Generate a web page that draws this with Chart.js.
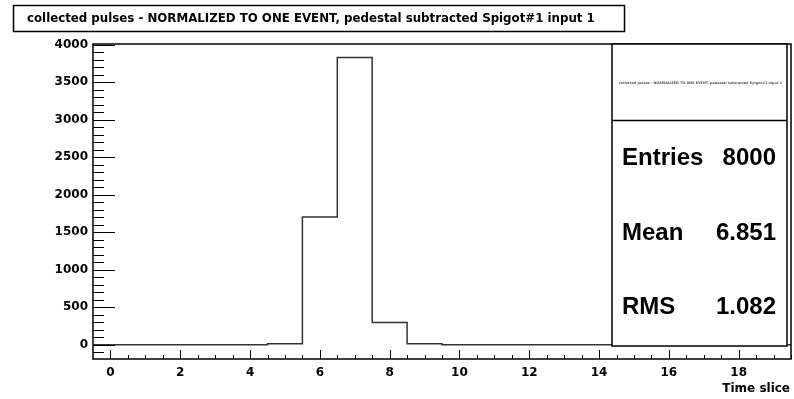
<!DOCTYPE html>
<html>
<head>
<meta charset="utf-8">
<script src="https://cdn.jsdelivr.net/npm/chart.js@4/dist/chart.umd.min.js"></script>
<style>
  html, body { margin: 0; padding: 0; background: #fff; }
  #wrap { width: 794px; height: 399px; position: relative; }
</style>
</head>
<body>
<div id="wrap"><canvas id="myChart"></canvas></div>
<script>

// DONNEES //

const histTitle = 'collected pulses - NORMALIZED TO ONE EVENT, pedestal subtracted Spigot#1 input 1';
const binCenters = [0, 1, 2, 3, 4, 5, 6, 7, 8, 9, 10, 11, 12, 13, 14, 15, 16, 17, 18, 19];
const binValues = [0, 0, 0, 0, 0, 15, 1705, 3830, 297, 12, 0, 0, 0, 0, 0, 0, 0, 0, 0, 0];
const xTickLabels = [0, 2, 4, 6, 8, 10, 12, 14, 16, 18];
const yTickLabels = [0, 500, 1000, 1500, 2000, 2500, 3000, 3500, 4000];
const statNames = ['Entries', 'Mean', 'RMS'];
const statValues = ['8000', '6.851', '1.082'];

const binWidth = 1;
const xMin = binCenters[0] - binWidth / 2;
const xMax = binCenters[binCenters.length - 1] + binWidth / 2;

// contour de l'histogramme : un point par bord de bin
const histPoints = binCenters.map((c, i) => ({ x: c - binWidth / 2, y: binValues[i] }));
histPoints.push({ x: xMax, y: binValues[binValues.length - 1] });

const FONT = '"DejaVu Sans", sans-serif';
const STATFONT = '"Liberation Sans", Arial, sans-serif';


// PLUGIN CADRE + TICKS + STATS style ROOT //

const rootStyle = {
  id: 'rootStyle',
  afterDatasetsDraw(chart) {
    const c = chart.ctx;
    const a = chart.chartArea;
    const xs = chart.scales.x;
    const ys = chart.scales.y;

    c.save();
    c.strokeStyle = '#000';
    c.lineWidth = 1;

    // ticks axe Y (vers l'interieur)
    for (let v = -100; v <= 4000; v += 100) {
      const y = Math.round(ys.getPixelForValue(v)) + 0.5;
      if (y < a.top || y > a.bottom) continue;
      const len = v % 500 === 0 ? 22 : 11;
      c.beginPath();
      c.moveTo(a.left, y);
      c.lineTo(a.left + len, y);
      c.stroke();
    }

    // ticks axe X (vers le haut)
    for (let v = 0; v <= 19.5; v += 0.5) {
      const x = Math.round(xs.getPixelForValue(v)) + 0.5;
      const len = v % 2 === 0 ? 9 : 4;
      c.beginPath();
      c.moveTo(x, a.bottom);
      c.lineTo(x, a.bottom - len);
      c.stroke();
    }

    // cadre
    c.lineWidth = 1.5;
    c.strokeRect(a.left, a.top, a.right - a.left, a.bottom - a.top);

    // boite de stats
    const bx = 612, by = 44, bw = 175, bh = 302;
    c.fillStyle = '#fff';
    c.fillRect(bx, by, bw, bh);
    c.lineWidth = 1.5;
    c.strokeRect(bx, by, bw, bh);
    c.beginPath();
    c.moveTo(bx, 120.5);
    c.lineTo(bx + bw, 120.5);
    c.stroke();

    c.fillStyle = '#555';
    c.font = 'bold 3.4px ' + FONT;
    c.textAlign = 'center';
    c.textBaseline = 'middle';
    c.fillText(histTitle, bx + bw / 2 + 1, 83);

    c.fillStyle = '#000';
    c.font = 'bold 24px ' + STATFONT;
    const rowsY = [158, 233, 307];
    statNames.forEach((n, i) => {
      c.textAlign = 'left';
      c.fillText(n, 622, rowsY[i]);
      c.textAlign = 'right';
      c.fillText(statValues[i], 776, rowsY[i]);
    });

    // titre
    c.lineWidth = 1.5;
    c.strokeRect(13.5, 5.5, 611, 26);
    c.font = 'bold 11.8px ' + FONT;
    c.textAlign = 'left';
    c.fillText(histTitle, 27, 19);

    // titre axe X
    c.font = 'bold 12px ' + FONT;
    c.textAlign = 'right';
    c.fillText('Time slice', 790, 389);

    c.restore();
  }
};


// GRAPHIQUE //

const ctx = document.getElementById('myChart');

new Chart(ctx, {
  type: 'scatter',
  data: {
    datasets: [{
      label: histTitle,
      data: histPoints,
      showLine: true,
      stepped: 'before',
      borderColor: '#333',
      borderWidth: 1.5,
      pointRadius: 0,
      fill: false
    }]
  },
  options: {
    responsive: true,
    maintainAspectRatio: false,
    animation: false,
    layout: {
      padding: { top: 44, right: 3, left: 0, bottom: 0 }
    },
    plugins: {
      legend: false,
      tooltip: { enabled: false }
    },
    scales: {
      x: {
        type: 'linear',
        min: xMin,
        max: xMax,
        grid: { display: false, drawTicks: false },
        border: { display: false },
        afterBuildTicks: (s) => { s.ticks = xTickLabels.map(v => ({ value: v })); },
        afterFit: (s) => { s.height = 40; },
        ticks: {
          padding: 7,
          maxRotation: 0,
          autoSkip: false,
          color: '#000',
          callback: (v) => String(v),
          font: { family: FONT, size: 12, weight: 'bold' }
        }
      },
      y: {
        min: -190,
        max: 4010,
        grid: { display: false, drawTicks: false },
        border: { display: false },
        afterBuildTicks: (s) => { s.ticks = yTickLabels.map(v => ({ value: v })); },
        afterFit: (s) => { s.width = 93; },
        ticks: {
          padding: 5,
          autoSkip: false,
          color: '#000',
          callback: (v) => String(v),
          font: { family: FONT, size: 12, weight: 'bold' }
        }
      }
    }
  },
  plugins: [rootStyle]
});

</script>
</body>
</html>
